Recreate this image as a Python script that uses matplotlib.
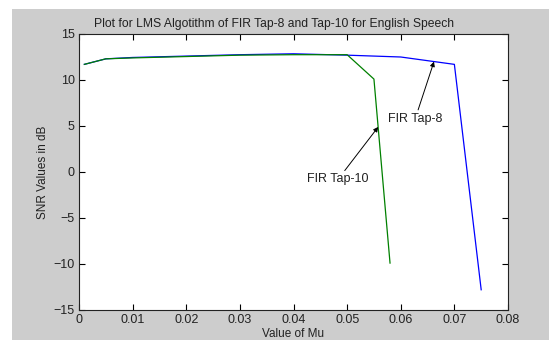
import matplotlib
matplotlib.use("Agg")
import matplotlib.pyplot as plt
from matplotlib.patches import Rectangle

plt.rcParams["font.family"] = ["Liberation Sans", "DejaVu Sans"]

mu_tap8 = [0.001, 0.005, 0.01, 0.02, 0.03, 0.04, 0.05, 0.06, 0.065, 0.07, 0.075]
snr_tap8 = [11.7, 12.3, 12.45, 12.6, 12.75, 12.85, 12.7, 12.5, 12.1, 11.7, -12.8]

mu_tap10 = [0.001, 0.005, 0.01, 0.02, 0.03, 0.04, 0.05, 0.055, 0.058]
snr_tap10 = [11.7, 12.3, 12.4, 12.55, 12.7, 12.75, 12.75, 10.1, -9.9]

W, H = 549, 341
fig = plt.figure(figsize=(W/100, H/100), dpi=100, facecolor="white")
# matlab-style grey frame
fig.patches.append(Rectangle((12/W, 1/H), 1 - 12/W, (H - 10)/H,
                             transform=fig.transFigure, facecolor="#cdcdcd",
                             edgecolor="none", zorder=-10))

ax = fig.add_axes([79/W, 1 - 310/H, (508 - 79)/W, (310 - 34)/H])
ax.set_facecolor("white")

ax.plot(mu_tap8, snr_tap8, color="#0000ff", lw=0.9)
ax.plot(mu_tap10, snr_tap10, color="#008000", lw=0.9)

ax.set_xlim(0, 0.08)
ax.set_ylim(-15, 15)
ax.set_xticks([0, 0.01, 0.02, 0.03, 0.04, 0.05, 0.06, 0.07, 0.08])
ax.set_xticklabels(["0", "0.01", "0.02", "0.03", "0.04", "0.05", "0.06", "0.07", "0.08"])
ax.set_yticks([-15, -10, -5, 0, 5, 10, 15])
ax.tick_params(direction="in", length=4, width=0.8, top=True, right=True,
               labelsize=9, pad=3, labelcolor="#222222")
for s in ax.spines.values():
    s.set_linewidth(0.8)
    s.set_color("#222222")

ax.set_title("Plot for LMS Algotithm of FIR Tap-8 and Tap-10 for English Speech",
             fontsize=8.7, pad=5, color="#222222", x=0.455)
ax.set_xlabel("Value of Mu", fontsize=8.5, labelpad=1, color="#222222")
ax.set_ylabel("SNR Values in dB", fontsize=8.5, labelpad=3, color="#222222")

arrow = dict(arrowstyle="-|>", color="black", lw=0.7, mutation_scale=7,
             shrinkA=0, shrinkB=0)
ax.annotate("FIR Tap-8", xy=(0.0662, 12.0), xytext=(0.0627, 5.8),
            fontsize=9, ha="center", va="center", arrowprops=arrow, color="#222222")
ax.annotate("FIR Tap-10", xy=(0.0558, 4.9), xytext=(0.0483, -0.8),
            fontsize=9, ha="center", va="center", arrowprops=arrow, color="#222222")

fig.savefig("out.png", dpi=100)
